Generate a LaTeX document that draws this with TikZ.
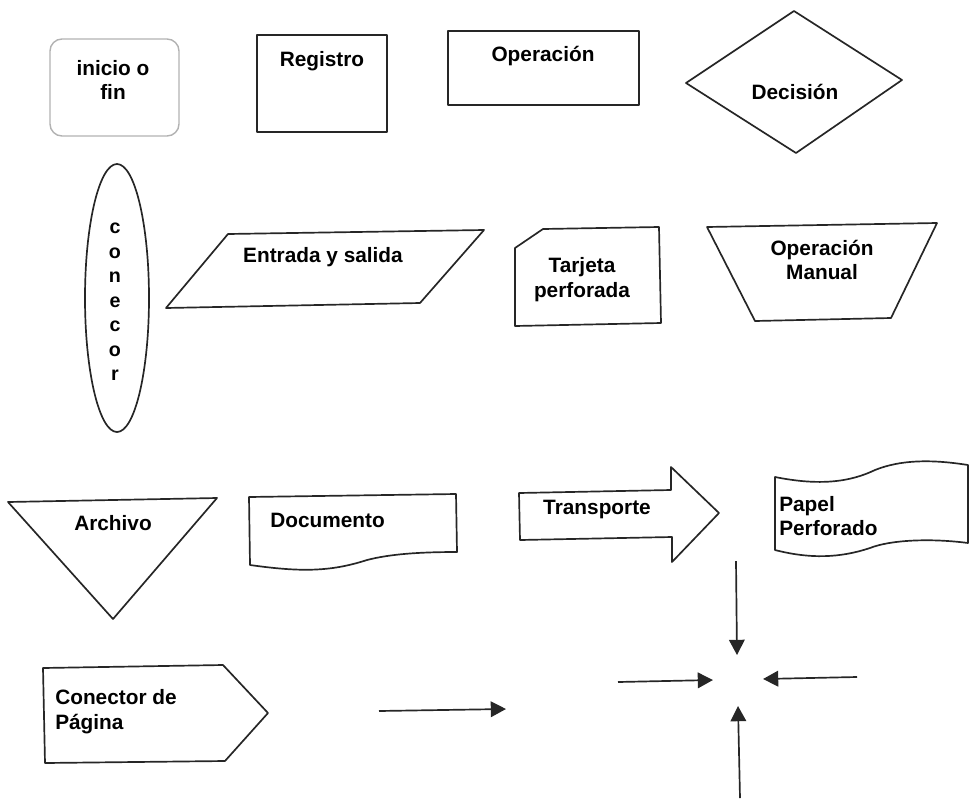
\documentclass[tikz,border=0pt]{standalone}
\usepackage{fontspec}
\setmainfont{Liberation Sans}
\usepackage{tikz}
\usetikzlibrary{arrows.meta,positioning}

\tikzset{
    forma/.style={line width=1.2pt, black!85, line join=round},
    txt/.style={font=\bfseries\fontsize{14.8}{17.7}\selectfont, align=center, inner sep=0pt},
    flecha/.style={line width=1.2pt, black!85, -{Triangle[length=3.8mm, width=3.9mm]}}
}

\begin{document}
\begin{tikzpicture}[x=0.25cm, y=-0.25cm]
    \useasboundingbox (0,0) rectangle (97,80);

    % fila 1
    \draw[forma, gray!60, line width=1pt, rounded corners=3mm] (5.0,3.9) rectangle (17.9,13.6);
    \node[txt] (inicio) at (11.3,8.0) {inicio o\\fin};

    \draw[forma] (25.7,3.5) -- (38.7,3.5) -- (38.7,13.2) -- (25.7,13.2) -- cycle;
    \node[txt] (registro) at (32.2,6.1) {Registro};

    \draw[forma] (44.8,3.1) -- (63.9,3.1) -- (63.9,10.5) -- (44.8,10.5) -- cycle;
    \node[txt] (operacion) at (54.3,5.6) {Operación};

    \draw[forma] (79.4,1.1) -- (90.2,8.0) -- (79.6,15.3) -- (68.6,8.3) -- cycle;
    \node[txt] (decision) at (79.5,9.2) {Decisión};

    % fila 2
    \draw[forma] (11.7,29.8) ellipse (3.2 and 13.4);
    \node[txt, font=\bfseries\fontsize{14}{17.4}\selectfont] (conector) at (11.5,30.2)
        {c\\o\\n\\e\\c\\o\\r};

    \draw[forma] (22.8,23.4) -- (48.4,23.0) -- (42.0,30.3) -- (16.6,30.8) -- cycle;
    \node[txt] (entrada) at (32.3,25.7) {Entrada y salida};

    \draw[forma] (51.5,24.8) -- (54.3,22.9) -- (65.9,22.7) -- (66.1,32.3) -- (51.5,32.6) -- cycle;
    \node[txt] (tarjeta) at (58.2,28.0) {Tarjeta\\perforada};

    \draw[forma] (70.7,22.7) -- (93.7,22.3) -- (89.1,31.8) -- (75.5,32.1) -- cycle;
    \node[txt] (manual) at (82.2,26.0) {Operación\\Manual};

    % fila 3
    \draw[forma] (0.8,50.2) -- (21.7,49.8) -- (11.3,61.9) -- cycle;
    \node[txt] (archivo) at (11.3,52.3) {Archivo};

    \draw[forma] (25.0,56.5) -- (24.9,49.7) -- (45.6,49.4) -- (45.7,55.2)
        .. controls (42,55.2) and (39,55.4) .. (36.7,56.0)
        .. controls (33,57.2) and (30,57.2) .. cycle;
    \node[txt, anchor=west] (documento) at (27.0,52.0) {Documento};

    \draw[forma] (51.9,49.3) -- (67.1,49.0) -- (67.1,46.7) -- (71.9,51.3)
        -- (67.2,56.2) -- (67.2,53.7) -- (52.0,54.0) -- cycle;
    \node[txt] (transporte) at (59.7,50.9) {Transporte};

    \draw[forma] (77.5,55.0) -- (77.5,47.7)
        .. controls (82,48.6) and (85,48.2) .. (87.5,47.0)
        .. controls (90,46.0) and (93,45.9) .. (96.8,46.5)
        -- (96.8,54.3)
        .. controls (93,53.8) and (89,54.0) .. (87.0,54.8)
        .. controls (84,55.8) and (81,55.9) .. cycle;
    \node[txt, anchor=west, align=left] (papel) at (77.9,51.6) {Papel\\Perforado};

    % fila 4
    \draw[forma] (4.3,66.8) -- (22.3,66.5) -- (26.8,71.3) -- (22.5,76.1) -- (4.5,76.3) -- cycle;
    \node[txt, anchor=west, align=left] (pagina) at (5.5,71.2) {Conector de\\Página};

    \coordinate (lineaA) at (37.9,71.1);
    \coordinate (lineaB) at (50.6,70.9);
    \draw[flecha] (lineaA) -- (lineaB);

    % flechas al centro
    \coordinate (arriba) at (73.6,56.1);
    \coordinate (arribaF) at (73.7,65.5);
    \coordinate (izq) at (61.8,68.2);
    \coordinate (izqF) at (71.3,68.0);
    \coordinate (der) at (85.7,67.7);
    \coordinate (derF) at (76.3,67.9);
    \coordinate (abajo) at (74.0,79.8);
    \coordinate (abajoF) at (73.8,70.6);

    \draw[flecha] (arriba) -- (arribaF);
    \draw[flecha] (izq) -- (izqF);
    \draw[flecha] (der) -- (derF);
    \draw[flecha] (abajo) -- (abajoF);

\end{tikzpicture}
\end{document}
